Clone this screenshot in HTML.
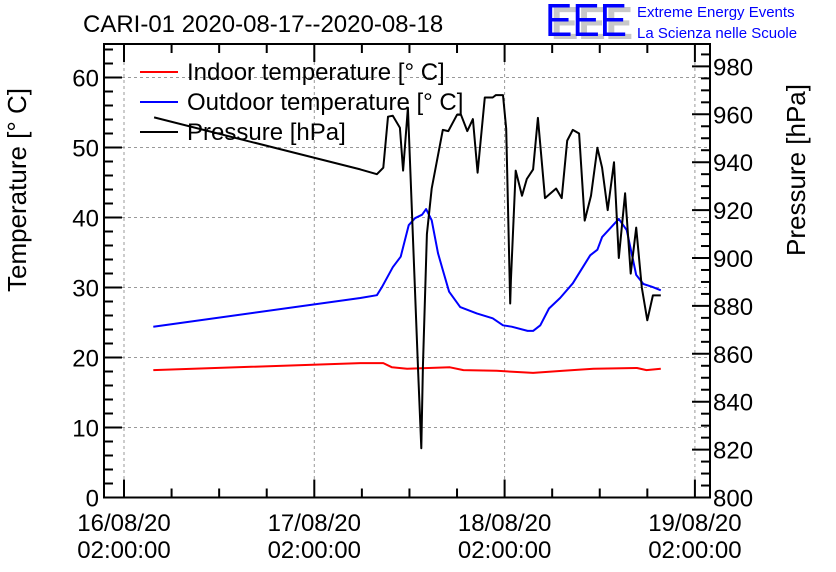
<!DOCTYPE html>
<html><head><meta charset="utf-8"><style>
body{margin:0;background:#fff;}
svg{display:block;font-family:"Liberation Sans",sans-serif;}
</style></head><body>
<svg id="chart" width="836" height="572" viewBox="0 0 836 572" xmlns="http://www.w3.org/2000/svg">
<rect width="836" height="572" fill="#fff"/>
<text x="83" y="32" font-size="24">CARI-01 2020-08-17--2020-08-18</text>
<g>
<text x="551" y="39" font-size="46" fill="#c8c8c8" font-weight="bold" textLength="82" lengthAdjust="spacingAndGlyphs">EEE</text>
<text x="545" y="36" font-size="46" fill="#0000ff" textLength="82" lengthAdjust="spacingAndGlyphs">EEE</text>
<text x="637" y="17" font-size="15" fill="#0000ff">Extreme Energy Events</text>
<text x="637" y="38" font-size="15" fill="#0000ff">La Scienza nelle Scuole</text>
</g>
<g id="grid"></g>
<g id="series"></g>
<g id="axes"></g>
<text transform="translate(26,190) rotate(-90)" text-anchor="middle" font-size="26">Temperature [° C]</text>
<text transform="translate(805,170) rotate(-90)" text-anchor="middle" font-size="26">Pressure [hPa]</text>
<g>
<g><line x1="140" y1="72" x2="178" y2="72" stroke="#f00" stroke-width="2"/><text x="187" y="80" font-size="24">Indoor temperature [° C]</text></g>
<g><line x1="140" y1="102" x2="178" y2="102" stroke="#00f" stroke-width="2"/><text x="187" y="110" font-size="24">Outdoor temperature [° C]</text></g>
<g><line x1="140" y1="132" x2="178" y2="132" stroke="#000" stroke-width="2"/><text x="187" y="140" font-size="24">Pressure [hPa]</text></g>
</g>
</svg>
<script>
// hours since 16/08/20 02:00:00
const indoorHours=[3.7,29.8,32.7,33.8,35.7,41.1,42.8,47,51.6,55.4,59.2,64.7,65.9,67.7];
const indoorTemp=[18.2,19.2,19.2,18.6,18.4,18.6,18.2,18.1,17.8,18.1,18.4,18.5,18.2,18.4];
const outdoorHours=[3.7,29.8,31.9,32.5,33.9,34.9,35.9,36.7,37.6,38.1,38.8,39.6,40.2,41,42.4,44.5,46.5,47.8,48.9,50.9,51.6,52.5,53.6,55,56.6,58.8,59.7,60.3,62.4,63.4,64.6,65.5,66.6,67.7];
const outdoorTemp=[24.4,28.5,28.9,30,32.9,34.4,38.9,39.9,40.4,41.2,39.6,34.9,32.5,29.4,27.2,26.3,25.6,24.6,24.4,23.8,23.8,24.6,27,28.5,30.6,34.6,35.4,37.2,39.8,38.2,31.8,30.5,30.1,29.6];
const pressureHours=[3.8,29.8,31.9,32.7,33.3,33.9,34.8,35.2,35.8,37.1,37.5,37.7,38.2,38.8,40.2,40.9,42,42.5,43.3,44,44.6,45.5,46.5,46.9,47.8,48.2,48.7,48.8,49.4,50.2,50.8,51.6,52.2,53.1,54.5,55.2,55.9,56.6,57.4,58.1,58.9,59.7,60.3,61,61.8,62.4,63.2,63.9,64.6,65.3,66,66.7,67.7];
const pressureHpa=[958.7,937,935,937.7,959,959.4,954.4,936.5,962.7,852,820.6,854.4,910,929,953.5,953,959.8,959.8,953,958,935.6,967,967,968,968,954,881,890.6,936.5,926,933,937,958.5,925,929,925,949,953.5,952,915.6,926,946,937.7,920,940,900,927,893.5,912.7,887.7,874,884.4,884.4];
const yTicks=[0,10,20,30,40,50,60];
const y2Ticks=[800,820,840,860,880,900,920,940,960,980];
const xTickLabels=[["16/08/20","02:00:00"],["17/08/20","02:00:00"],["18/08/20","02:00:00"],["19/08/20","02:00:00"]];

const L=104,R=710,T=44,B=497.5;
const X0=124,DAY=190.3;
const xs=h=>X0+h/24*DAY;
const ys=t=>B-t*7;
const ys2=p=>B-(p-800)*2.395;
const NS="http://www.w3.org/2000/svg";
function mk(tag,parent,attrs){const e=document.createElementNS(NS,tag);for(const k in attrs)e.setAttribute(k,attrs[k]);parent.appendChild(e);return e;}
const grid=document.getElementById('grid'),axes=document.getElementById('axes'),ser=document.getElementById('series');

yTicks.forEach(t=>{
 if(t>0){const g=mk('line',grid,{x1:L,x2:R,y1:ys(t),y2:ys(t),stroke:'#999','stroke-dasharray':'3,3','stroke-width':1});
 
 }
 const tx=mk('text',axes,{x:L-5,y:ys(t)+9,'text-anchor':'end','font-size':24});tx.textContent=t;
 
 
});
for(let t=0;t<=64;t+=2){const len=(t%10===0)?18:9;
 mk('line',axes,{x1:L,x2:L+len,y1:ys(t),y2:ys(t),stroke:'#000','stroke-width':2});}
for(let p=800;p<=985;p+=5){const len=(p%20===0)?18:9;
 mk('line',axes,{x1:R-len,x2:R,y1:ys2(p),y2:ys2(p),stroke:'#000','stroke-width':2});}
y2Ticks.forEach(p=>{const tx=mk('text',axes,{x:R+3,y:ys2(p)+9,'font-size':24});tx.textContent=p;
 
 });
xTickLabels.forEach((lab,i)=>{const x=xs(i*24);
 const g=mk('line',grid,{x1:x,x2:x,y1:T,y2:B,stroke:'#999','stroke-dasharray':'3,3','stroke-width':1});
 
 
 const t1=mk('text',axes,{x:x,y:531,'text-anchor':'middle','font-size':24});t1.textContent=lab[0];
 
 
 const t2=mk('text',axes,{x:x,y:558,'text-anchor':'middle','font-size':24});t2.textContent=lab[1];
 
 });
for(let h=-12;h<=78;h+=6){const x=xs(h);if(x<L+2||x>R-2)continue;const len=(h%24===0)?18:9;
 mk('line',axes,{x1:x,x2:x,y1:B,y2:B-len,stroke:'#000','stroke-width':2});
 mk('line',axes,{x1:x,x2:x,y1:T,y2:T+len,stroke:'#000','stroke-width':2});}
const fr=mk('rect',axes,{x:L,y:T,width:R-L,height:B-T,fill:'none',stroke:'#000','stroke-width':2});



function line(hs,vs,sc,col,name){
 const n=Math.min(hs.length,vs.length);
 let d='';
 for(let i=0;i<n;i++)d+=(i?'L':'M')+xs(hs[i]).toFixed(1)+','+sc(vs[i]).toFixed(1)+' ';
 const p=mk('path',ser,{d:d,fill:'none',stroke:col,'stroke-width':2,'stroke-linejoin':'round'});
 
 
}
line(indoorHours,indoorTemp,ys,'#f00','indoor-temperature-line');
line(outdoorHours,outdoorTemp,ys,'#00f','outdoor-temperature-line');
line(pressureHours,pressureHpa,ys2,'#000','pressure-line');
</script>
</body></html>
